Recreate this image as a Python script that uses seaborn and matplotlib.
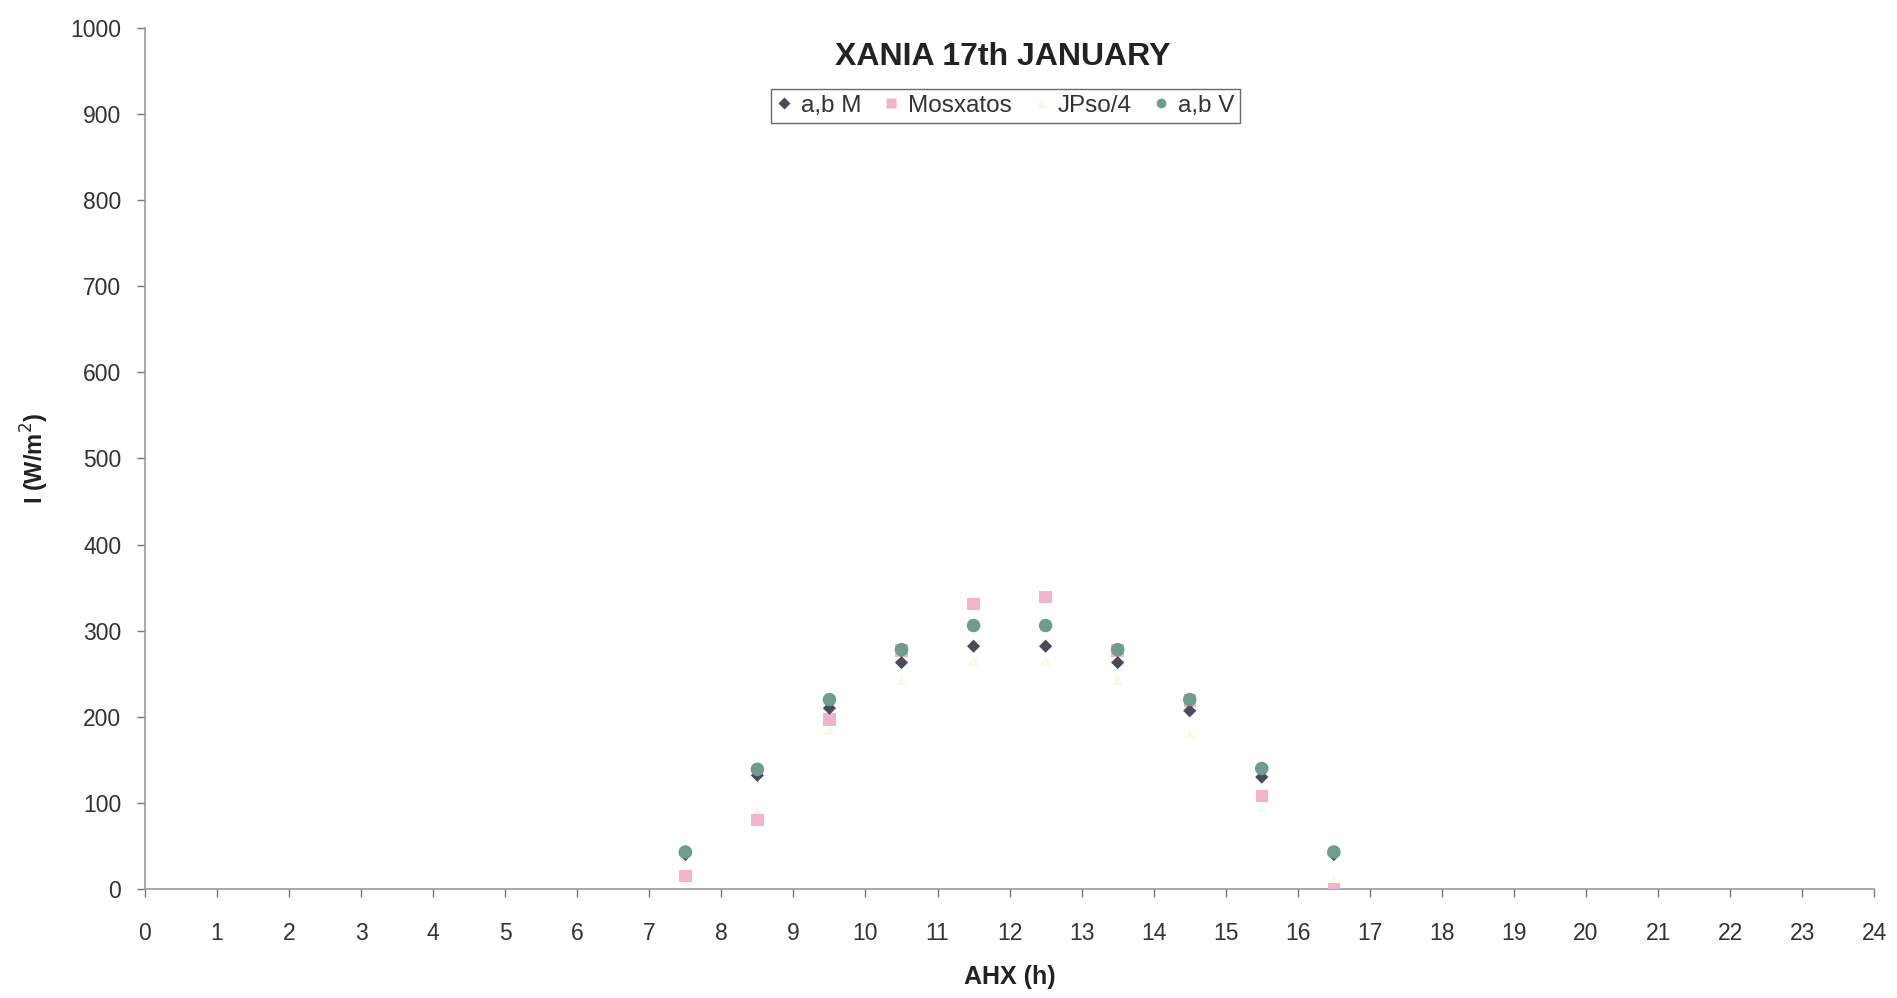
import matplotlib
matplotlib.use("Agg")
import matplotlib.pyplot as plt
import seaborn as sns
import pandas as pd
from matplotlib.lines import Line2D

hours = [7.5, 8.5, 9.5, 10.5, 11.5, 12.5, 13.5, 14.5, 15.5, 16.5]
ab_M = [40, 132, 210, 263, 282, 282, 263, 207, 130, 40]
mosxatos = [15, 80, 197, 277, 331, 339, 277, 219, 108, 0]
jpso4 = [10, 90, 185, 243, 265, 265, 243, 181, 95, 10]
ab_V = [43, 139, 220, 278, 306, 306, 278, 220, 140, 43]

series_names = ["a,b M", "Mosxatos", "JPso/4", "a,b V"]
series_vals = [ab_M, mosxatos, jpso4, ab_V]
colors = {"a,b M": "#4a4a58", "Mosxatos": "#f2b3cc", "JPso/4": "#f9f9e8", "a,b V": "#6e9c8e"}
markers = {"a,b M": "D", "Mosxatos": "s", "JPso/4": "^", "a,b V": "o"}
sizes = {"a,b M": 45, "Mosxatos": 80, "JPso/4": 60, "a,b V": 95}

rows = []
for name, vals in zip(series_names, series_vals):
    for h, v in zip(hours, vals):
        rows.append({"h": h, "I": v, "series": name})
df = pd.DataFrame(rows)

sns.set_theme(style="white")
plt.rcParams["font.family"] = ["Liberation Sans", "DejaVu Sans"]

fig = plt.figure(figsize=(18.97, 9.98), dpi=100)
ax = fig.add_axes([0.0764, 0.1092, 0.9116, 0.8628])

for name in ["JPso/4", "Mosxatos", "a,b M", "a,b V"]:
    sub = df[df["series"] == name]
    sns.scatterplot(data=sub, x="h", y="I", ax=ax, color=colors[name],
                    marker=markers[name], s=sizes[name], edgecolor="none",
                    linewidth=0, legend=False, zorder=3)

ax.set_xlim(0, 24)
ax.set_ylim(0, 1000)
ax.set_xticks(range(0, 25))
ax.set_yticks(range(0, 1001, 100))
ax.tick_params(axis="x", labelsize=16.5, colors="#777777", length=6, width=1,
               direction="out", bottom=True, pad=18)
ax.tick_params(axis="y", labelsize=16.5, colors="#777777", length=6, width=1,
               direction="out", left=True, pad=11)
for lab in ax.get_xticklabels() + ax.get_yticklabels():
    lab.set_color("#333333")
for side in ["top", "right"]:
    ax.spines[side].set_visible(False)
for side in ["left", "bottom"]:
    ax.spines[side].set_color("#999999")
    ax.spines[side].set_linewidth(1.2)

ax.set_xlabel("AHX (h)", fontsize=18, fontweight="bold", color="#222222", labelpad=14)
ax.set_ylabel("I (W/m$^2$)", fontsize=17, fontweight="bold", color="#222222", labelpad=14)

fig.text(0.5285, 0.943, "XANIA 17th JANUARY", ha="center", va="center",
         fontsize=23, fontweight="bold", color="#222222")

handles = [Line2D([0], [0], marker=markers[n], color="none", markerfacecolor=colors[n],
                  markeredgecolor="none", markersize=7 if n != "a,b M" else 6, label=n)
           for n in series_names]
leg = fig.legend(handles=handles, loc="center", bbox_to_anchor=(0.530, 0.894), ncol=4,
                 fontsize=17.5, frameon=True, fancybox=False, edgecolor="#444444",
                 handlelength=0.6, handletextpad=0.4, columnspacing=0.9,
                 borderpad=0.25)
leg.get_frame().set_linewidth(1.0)
for t in leg.get_texts():
    t.set_color("#333333")

fig.savefig("out.png", dpi=100, facecolor="white")
